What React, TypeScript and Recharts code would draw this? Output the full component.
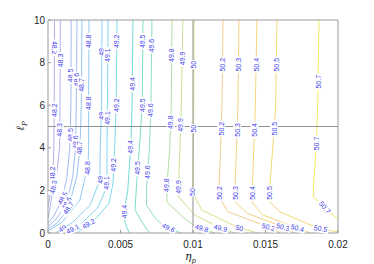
import { LineChart, Line, XAxis, YAxis, ReferenceLine, ReferenceDot } from 'recharts'

// contour levels and their colours (parula-like, light)
const levels = [48.2, 48.3, 48.5, 48.6, 48.7, 48.8, 49, 49.1, 49.2, 49.4, 49.5, 49.6, 49.8, 49.9, 50, 50.2, 50.3, 50.4, 50.5, 50.7]
const levelColors = [
  '#b4b2ea', '#aeb4ee', '#a6baf2', '#a0c0f2', '#98c6f2', '#92ccf2', '#88d2f2', '#82d6f0', '#7cdaec',
  '#74dcd8', '#7edecc', '#8ee0c0', '#b0e0a2', '#c6e292', '#dae086', '#f4cc8a', '#f6d082', '#f6d47c', '#f4da76', '#f2ec66',
]

// contour paths, [eta_p, l_p] from top to bottom
const contourPaths: [number, number][][] = [
  [[0.00045, 10], [0.00043, 6], [0.0004, 4], [0.00034, 2.7], [0.0001, 1.6], [0, 1.2]],
  [[0.00085, 10], [0.00083, 6], [0.0008, 4], [0.0006, 2.8], [0.00034, 2.1], [0.0001, 1.0], [0, 0.7]],
  [[0.0016, 10], [0.00158, 6], [0.0015, 4], [0.0013, 2.6], [0.001, 1.6], [0.0004, 0.8], [0, 0.45]],
  [[0.002, 10], [0.00195, 6], [0.0019, 4], [0.0017, 2.6], [0.00124, 1.3], [0.0005, 0.6], [0, 0.32]],
  [[0.00234, 10], [0.0023, 6], [0.0022, 4], [0.002, 2.7], [0.00138, 1.1], [0.0006, 0.45], [0, 0.2]],
  [[0.00283, 10], [0.0028, 6], [0.0028, 4], [0.00276, 3.2], [0.0022, 1.55], [0.001, 0.52], [0, 0.1]],
  [[0.00372, 10], [0.0037, 6], [0.0036, 4], [0.00359, 2.5], [0.0029, 1.3], [0.0017, 0.5], [0.0005, 0]],
  [[0.00414, 10], [0.0041, 6], [0.00407, 4], [0.00407, 2.2], [0.00345, 1.2], [0.0022, 0.38], [0.0012, 0]],
  [[0.00476, 10], [0.0047, 6], [0.0046, 4], [0.00448, 2.3], [0.0042, 1.4], [0.0034, 0.75], [0.0027, 0.38], [0.002, 0]],
  [[0.00586, 10], [0.0058, 6], [0.0057, 4], [0.0055, 2], [0.0053, 1.2], [0.0053, 0.5], [0.0056, 0]],
  [[0.00655, 10], [0.0065, 6], [0.0063, 4], [0.0061, 2.2], [0.006, 1.1], [0.0064, 0.6], [0.007, 0]],
  [[0.00717, 10], [0.0071, 6], [0.007, 4], [0.0068, 2.2], [0.0068, 1.3], [0.0074, 0.7], [0.0079, 0.38], [0.0087, 0.12], [0.0092, 0]],
  [[0.00855, 10], [0.0085, 6], [0.0084, 4], [0.0082, 2.2], [0.0082, 1.45], [0.0093, 0.75], [0.01, 0.38], [0.0109, 0.15], [0.0115, 0]],
  [[0.0093, 10], [0.0092, 6], [0.0091, 4], [0.009, 2.2], [0.009, 1.7], [0.0101, 0.85], [0.0119, 0.23], [0.0129, 0]],
  [[0.01007, 10], [0.01005, 6], [0.01003, 4], [0.01, 2.2], [0.01, 1.88], [0.0106, 1.08], [0.0132, 0.23], [0.0145, 0]],
  [[0.01207, 10], [0.012, 6], [0.0119, 4], [0.0118, 2.2], [0.0118, 1.7], [0.0124, 1.0], [0.0152, 0.28], [0.016, 0]],
  [[0.01317, 10], [0.0131, 6], [0.013, 4], [0.0129, 2.2], [0.0129, 1.46], [0.0137, 0.94], [0.0162, 0.28], [0.017, 0]],
  [[0.01441, 10], [0.0143, 6], [0.0142, 4], [0.0141, 2.2], [0.0141, 1.41], [0.0148, 0.85], [0.0172, 0.23], [0.0181, 0]],
  [[0.01579, 10], [0.0157, 6], [0.0155, 4], [0.0153, 2.2], [0.0153, 1.46], [0.016, 0.99], [0.0186, 0.23], [0.02, 0.05]],
  [[0.01869, 10], [0.0186, 6], [0.0185, 4], [0.0183, 2.2], [0.0183, 1.69], [0.0199, 0.7], [0.02, 0.69]],
]

// contour labels placed by height: [level, l_p, angle]
const labelsByY: [number, number, number][] = [
  [48.2, 8.7, 90], [48.3, 8.1, -90], [48.5, 7.4, -90], [48.6, 7.2, -90], [48.7, 6.95, -90],
  [48.8, 9.0, -90], [49, 8.5, -90], [49.1, 8.35, -90], [49.2, 9.0, -90], [49.4, 7.0, -90],
  [49.5, 9.0, -90], [49.6, 8.8, -90], [49.8, 8.35, -90], [49.9, 8.2, -90], [50, 7.9, -90],
  [50.2, 7.9, -90], [50.3, 7.9, -90], [50.4, 7.9, -90], [50.5, 7.9, -90], [50.7, 7.1, -90],
  [48.2, 5.77, -90], [48.3, 4.84, -90], [48.5, 4.6, -90], [48.6, 4.27, -90], [48.7, 4.0, -90],
  [48.8, 6.1, -90], [49, 5.5, -90], [49.1, 5.4, -90], [49.2, 6.0, -90], [49.4, 4.04, -90],
  [49.5, 6.0, -90], [49.6, 5.77, -90], [49.8, 5.2, -90], [49.9, 5.07, -90], [50, 4.9, -90],
  [50.2, 4.9, -90], [50.3, 4.84, -90], [50.4, 4.84, -90], [50.5, 4.9, -90], [50.7, 4.2, -90],
  [48.2, 2.8, -90], [48.3, 2.16, -80], [48.8, 3.05, -90], [49, 2.5, -90], [49.1, 2.35, -90],
  [49.2, 3.2, -90], [49.4, 1.0, -90], [49.5, 3.05, -90], [49.6, 2.86, -90], [49.8, 2.25, -90],
  [49.9, 2.16, -90], [50, 1.92, -90], [50.2, 1.88, -90], [50.3, 1.88, -90], [50.4, 1.88, -90],
  [50.5, 1.88, -90], [48.5, 1.64, -62], [48.6, 1.4, -60], [48.7, 1.17, -55], [50.7, 1.2, 50],
]

// contour labels placed along the flat bottom parts: [level, eta_p, angle]
const labelsByX: [number, number, number][] = [
  [49, 0.001, -30], [49.1, 0.0017, -28], [49.2, 0.0028, -30], [49.6, 0.0083, 25],
  [49.8, 0.0106, 18], [49.9, 0.0119, 15], [50, 0.0132, 15], [50.2, 0.0152, 15],
  [50.3, 0.0162, 15], [50.4, 0.0172, 15], [50.5, 0.0188, 10],
]

const xTicks = [0, 0.005, 0.01, 0.015, 0.02]
const yTicks = [0, 2, 4, 6, 8, 10]

const pathOf = (level: number) => contourPaths[levels.indexOf(level)]

function xAtY(path: [number, number][], y: number) {
  for (let i = 0; i < path.length - 1; i++) {
    const [x1, y1] = path[i]
    const [x2, y2] = path[i + 1]
    if ((y <= y1 && y >= y2) || (y >= y1 && y <= y2)) {
      if (y1 === y2) return x1
      return x1 + ((y - y1) / (y2 - y1)) * (x2 - x1)
    }
  }
  return path[path.length - 1][0]
}

function yAtX(path: [number, number][], x: number) {
  for (let i = path.length - 1; i > 0; i--) {
    const [x1, y1] = path[i]
    const [x2, y2] = path[i - 1]
    if ((x <= x1 && x >= x2) || (x >= x1 && x <= x2)) {
      if (x1 === x2) return y1
      return y1 + ((x - x1) / (x2 - x1)) * (y2 - y1)
    }
  }
  return path[0][1]
}

const font = 'Liberation Sans, Arial, sans-serif'
const axisColor = '#262626'
const boxColor = '#9a9a9a'

function ContourLabel({ cx, cy, text, angle }: { cx: number; cy: number; text: string; angle: number }) {
  const w = text.length * 3.6 + 2
  return (
    <g transform={`translate(${cx},${cy}) rotate(${angle})`}>
      <rect x={-w / 2} y={-4} width={w} height={8} fill="#fff" />
      <text x={0} y={0} dy="0.35em" textAnchor="middle" fontSize={7} fill="#4040ec" fontFamily={font}>
        {text}
      </text>
    </g>
  )
}

// ticks point into the plot, as in the original figure
const BottomTick = (props: any) => {
  const { x, y, payload } = props
  return (
    <g>
      <line x1={x} x2={x} y1={y} y2={y - 3} stroke={boxColor} />
      <text x={x} y={y + 15} textAnchor="middle" fontSize={10} fill={axisColor} fontFamily={font}>
        {String(payload.value)}
      </text>
    </g>
  )
}

const TopTick = (props: any) => {
  const { x, y } = props
  return <line x1={x} x2={x} y1={y} y2={y + 3} stroke={boxColor} />
}

const LeftTick = (props: any) => {
  const { x, y, payload } = props
  return (
    <g>
      <line x1={x} x2={x + 3} y1={y} y2={y} stroke={boxColor} />
      <text x={x - 3} y={y + 3.5} textAnchor="end" fontSize={10} fill={axisColor} fontFamily={font}>
        {String(payload.value)}
      </text>
    </g>
  )
}

const RightTick = (props: any) => {
  const { x, y } = props
  return <line x1={x} x2={x - 3} y1={y} y2={y} stroke={boxColor} />
}

export default function App() {
  const labelItems = [
    ...labelsByY.map(([lv, y, a]) => ({ lv, x: xAtY(pathOf(lv), y), y, a })),
    ...labelsByX.map(([lv, x, a]) => ({ lv, x, y: yAtX(pathOf(lv), x), a })),
  ]

  return (
    <div style={{ position: 'absolute', left: 0, top: 0, width: 374, height: 264, background: '#fff' }}>
      <LineChart width={374} height={264} margin={{ top: 19, right: 35, bottom: 11, left: 8 }}>
        <XAxis
          type="number"
          dataKey="x"
          domain={[0, 0.02]}
          ticks={xTicks}
          allowDataOverflow
          height={20}
          tickSize={0}
          tickMargin={0}
          tick={BottomTick}
          axisLine={{ stroke: boxColor }}
        />
        <XAxis
          xAxisId="top"
          orientation="top"
          type="number"
          dataKey="x"
          domain={[0, 0.02]}
          ticks={xTicks}
          height={1}
          tickSize={0}
          tickMargin={0}
          tick={TopTick}
          axisLine={{ stroke: boxColor }}
        />
        <YAxis
          type="number"
          dataKey="y"
          domain={[0, 10]}
          ticks={yTicks}
          allowDataOverflow
          width={40}
          tickSize={0}
          tickMargin={0}
          tick={LeftTick}
          axisLine={{ stroke: boxColor }}
        />
        <YAxis
          yAxisId="right"
          orientation="right"
          type="number"
          domain={[0, 10]}
          ticks={yTicks}
          width={1}
          tickSize={0}
          tickMargin={0}
          tick={RightTick}
          axisLine={{ stroke: boxColor }}
        />
        {levels.map((lv, i) => (
          <Line
            key={lv}
            data={contourPaths[i].map(([x, y]) => ({ x, y }))}
            dataKey="y"
            type="linear"
            stroke={levelColors[i]}
            strokeWidth={1}
            dot={false}
            activeDot={false}
            isAnimationActive={false}
          />
        ))}
        <ReferenceLine x={0.01} stroke="#909090" strokeWidth={1} />
        <ReferenceLine y={5} stroke="#909090" strokeWidth={1} />
        {labelItems.map((l, i) => (
          <ReferenceDot
            key={i}
            x={l.x}
            y={l.y}
            r={0}
            ifOverflow="visible"
            shape={(p: any) => <ContourLabel cx={p.cx} cy={p.cy} text={String(l.lv)} angle={l.a} />}
          />
        ))}
      </LineChart>
      <div
        style={{
          position: 'absolute',
          left: 185,
          top: 251,
          lineHeight: '12px',
          fontFamily: 'DejaVu Serif, serif',
          fontStyle: 'italic',
          fontSize: 11,
          color: axisColor,
        }}
      >
        η<sub style={{ fontSize: 7, lineHeight: 0 }}>p</sub>
      </div>
      <div
        style={{
          position: 'absolute',
          left: 16,
          top: 120,
          lineHeight: '12px',
          transform: 'rotate(-90deg)',
          fontFamily: 'DejaVu Serif, serif',
          fontStyle: 'italic',
          fontSize: 11,
          color: axisColor,
        }}
      >
        ℓ<sub style={{ fontSize: 7, lineHeight: 0 }}>P</sub>
      </div>
    </div>
  )
}
